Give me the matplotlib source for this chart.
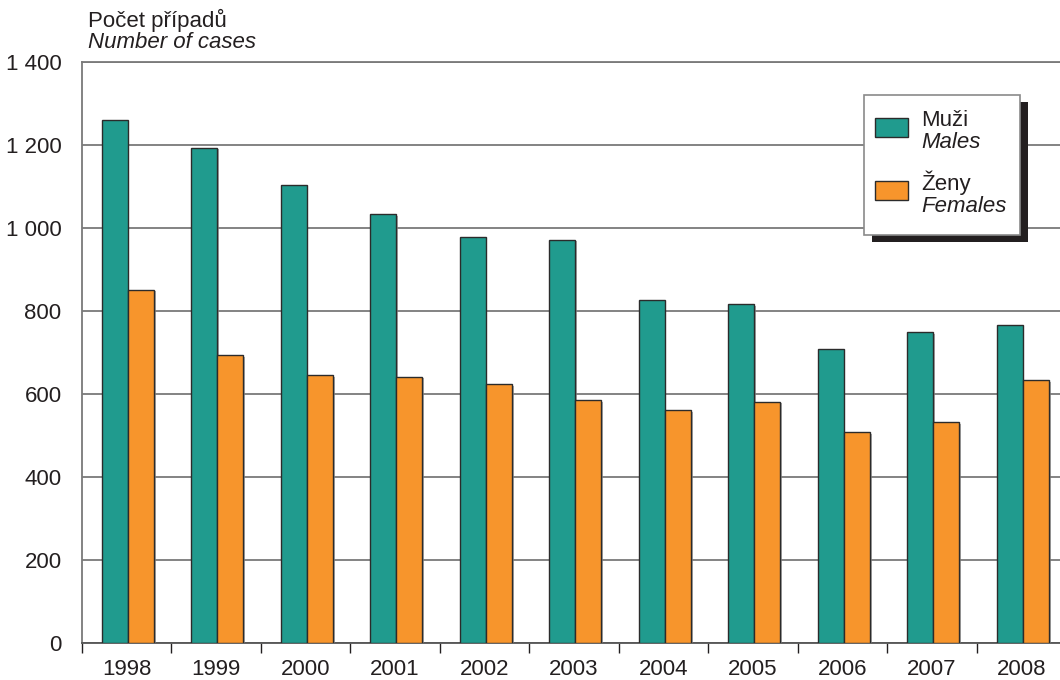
import matplotlib
matplotlib.use('Agg')
import matplotlib.pyplot as plt
import numpy as np
from matplotlib.patches import Rectangle
from matplotlib.ticker import FixedLocator
import matplotlib.patheffects as pe

years = ['1998', '1999', '2000', '2001', '2002', '2003', '2004', '2005', '2006', '2007', '2008']
males = [1260, 1193, 1103, 1033, 977, 972, 826, 817, 708, 749, 766]
females = [851, 693, 645, 642, 623, 586, 561, 582, 508, 533, 634]
yticks = [0, 200, 400, 600, 800, 1000, 1200, 1400]

TEAL = '#209b8e'
ORANGE = '#f7952c'
INK = '#231f20'
W, H = 1060, 680
FS = 16

plt.rcParams['font.family'] = ['Liberation Sans', 'DejaVu Sans']
plt.rcParams['font.size'] = FS

fig = plt.figure(figsize=(W / 100, H / 100), dpi=100)
ax = fig.add_axes([81.7 / W, 1 - 643.3 / H, (W - 81.7) / W, (643.3 - 61.7) / H])

x = np.arange(len(years)) + 0.015
bw = 0.292
shadow = [pe.SimplePatchShadow(offset=(1.2, -1.2), shadow_rgbFace='#888888', alpha=0.7), pe.Normal()]
b1 = ax.bar(x - bw / 2, males, bw, color=TEAL, edgecolor='#2b2b2b', linewidth=1.0, zorder=3)
b2 = ax.bar(x + bw / 2, females, bw, color=ORANGE, edgecolor='#2b2b2b', linewidth=1.0, zorder=3)
for r in list(b1) + list(b2):
    r.set_path_effects(shadow)

ax.set_xlim(-0.5, -0.5 + (W - 81.7) / 89.5)
ax.set_ylim(0, 1400)
ax.set_yticks(yticks)
ax.set_yticklabels([f'{v:,}'.replace(',', ' ') for v in yticks])
ax.tick_params(axis='y', length=0, pad=14.5, labelsize=FS, colors=INK)
ax.grid(True, axis='y', color='#7a7a7a', linewidth=1.3, zorder=0)
ax.set_axisbelow(True)

ax.set_xticks(np.arange(len(years)))
ax.set_xticklabels(years)
ax.tick_params(axis='x', which='major', length=0, pad=11, labelsize=FS, colors=INK)
ax.xaxis.set_minor_locator(FixedLocator(np.arange(-0.5, len(years), 1.0)))
ax.tick_params(axis='x', which='minor', length=7, width=1.0, color=INK)

ax.spines['right'].set_visible(False)
for s in ['top', 'left']:
    ax.spines[s].set_color('#7a7a7a')
    ax.spines[s].set_linewidth(1.3)
ax.spines['bottom'].set_color('#555555')
ax.spines['bottom'].set_linewidth(1.3)

# axis title
fig.text(88 / W, 1 - 20 / H, 'Počet případů', fontsize=FS, va='center', ha='left', color=INK)
fig.text(88 / W, 1 - 42 / H, 'Number of cases', fontsize=FS, style='italic', va='center', ha='left', color=INK)

# legend box with offset shadow
def fx(px):
    return px / W

def fy(py):
    return 1 - py / H

fig.patches.append(Rectangle((fx(872), fy(242)), fx(1028) - fx(872), fy(102) - fy(242),
                             transform=fig.transFigure, facecolor=INK, edgecolor='none', zorder=5))
fig.patches.append(Rectangle((fx(864), fy(235)), fx(1020) - fx(864), fy(95) - fy(235),
                             transform=fig.transFigure, facecolor='white', edgecolor='#8a8a8a', linewidth=1.2, zorder=6))
for i, (col, l1, l2) in enumerate([(TEAL, 'Muži', 'Males'), (ORANGE, 'Ženy', 'Females')]):
    top = 118 + i * 63
    fig.patches.append(Rectangle((fx(875), fy(top + 19)), fx(908) - fx(875), fy(top) - fy(top + 19),
                                 transform=fig.transFigure, facecolor=col, edgecolor='#2b2b2b', linewidth=1.0, zorder=7))
    fig.text(fx(921), fy(top + 2), l1, fontsize=FS, va='center', ha='left', color=INK, zorder=8)
    fig.text(fx(921), fy(top + 25), l2, fontsize=FS, style='italic', va='center', ha='left', color=INK, zorder=8)

fig.savefig('out.png', dpi=100)
